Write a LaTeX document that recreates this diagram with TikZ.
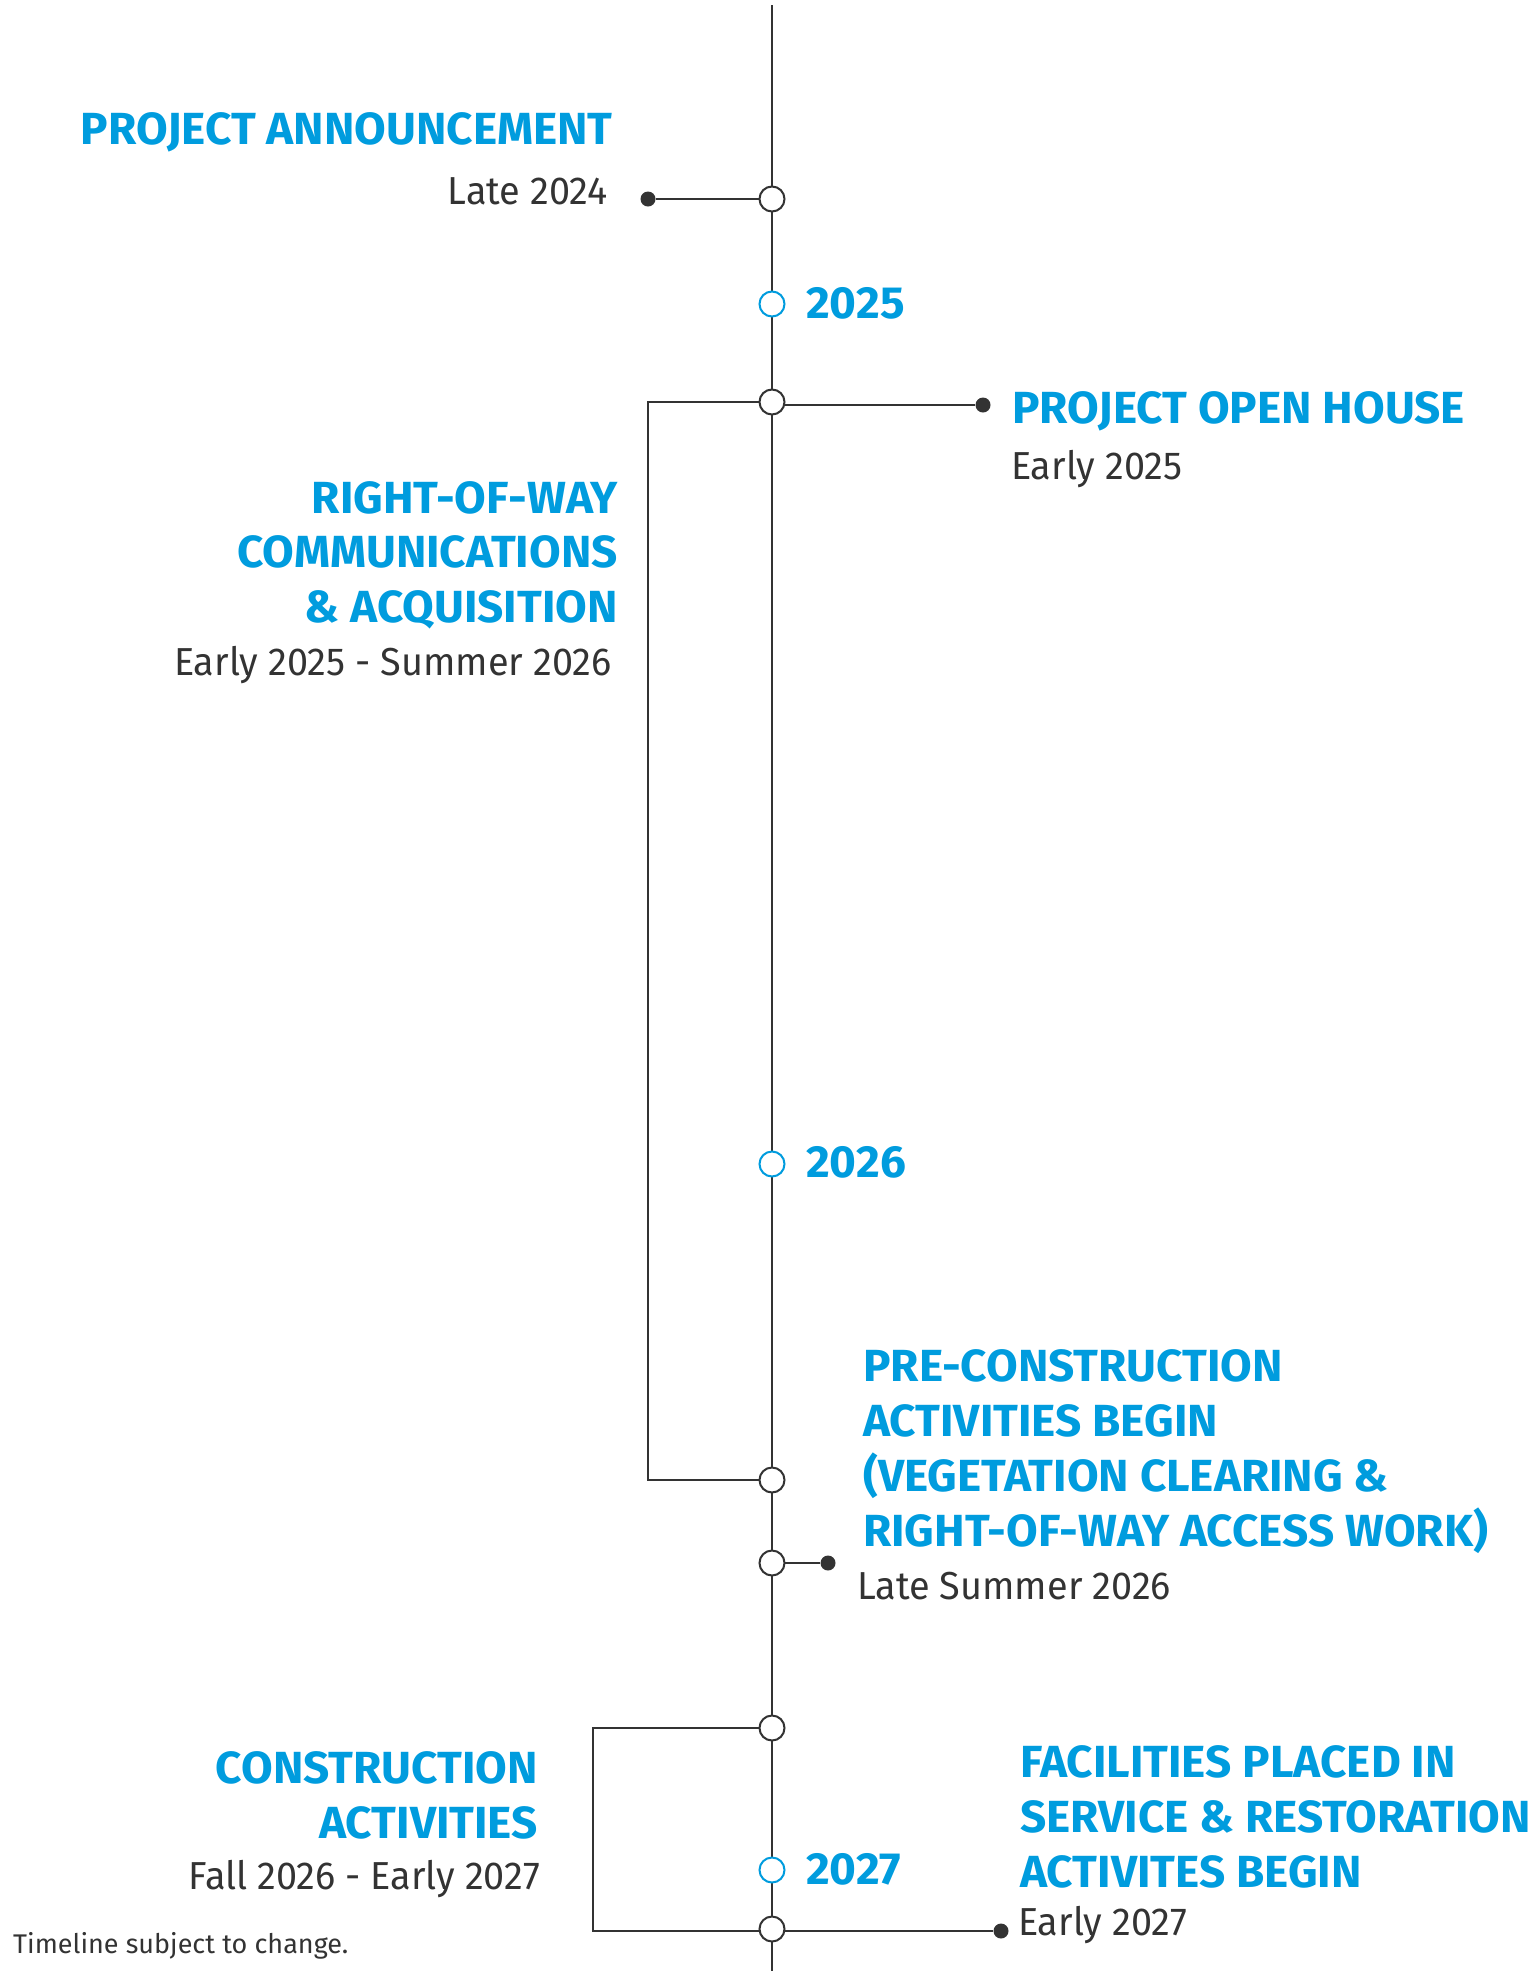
\documentclass[tikz,border=0pt]{standalone}
\usepackage{fontspec}
\setmainfont{Fira Sans}
\newfontfamily\headfont{Fira Sans}[FakeStretch=1.02]
\newfontfamily\datefont{Fira Sans}[FakeStretch=0.97]
\usepackage{xcolor}
\definecolor{Blue}{RGB}{0,156,222}
\definecolor{Gray}{RGB}{51,51,51}
\definecolor{White}{RGB}{255,255,255}
\usepackage{tikz}

\begin{document}
\begin{tikzpicture}[x=1pt, y=-1pt,
	line/.style={draw=Gray, line width=2pt},
	joint/.style={circle, draw=Gray, fill=White, line width=2pt, minimum size=25pt, inner sep=0pt},
	yearjoint/.style={circle, draw=Blue, fill=White, line width=2pt, minimum size=25pt, inner sep=0pt},
	pin/.style={circle, fill=Gray, minimum size=15pt, inner sep=0pt},
	heading/.style={text=Blue, font=\fontsize{45}{55}\headfont\bfseries, inner sep=0pt},
	datetext/.style={text=Gray, font=\fontsize{39}{47}\datefont, inner sep=0pt}]
		
		\useasboundingbox (0,0) rectangle (1538,1971);
		
		% Points on the timeline
		\coordinate (top) at (772,5);
		\coordinate (bottom) at (772,1971);
		\coordinate (ann) at (772,199);
		\coordinate (y25) at (772,304);
		\coordinate (open) at (772,402);
		\coordinate (y26) at (772,1164);
		\coordinate (pre) at (772,1480);
		\coordinate (late) at (772,1563);
		\coordinate (con) at (772,1728);
		\coordinate (y27) at (772,1870);
		\coordinate (fac) at (772,1929);
		
		% Corners of the brackets
		\coordinate (kRow) at (648,402);
		\coordinate (kCon) at (593,1728);
		
		% Pins
		\node[pin] (pAnn) at (648,199) {};
		\node[pin] (pOpen) at (983,405) {};
		\node[pin] (pLate) at (828,1563) {};
		\node[pin] (pFac) at (1001,1931) {};
		
		% Timeline
		\draw[line] (top) -- (bottom);
		
		% Connectors
		\draw[line] (pAnn) -- (ann);
		\draw[line] (pOpen) -- (pOpen -| open);
		\draw[line] (open) -- (kRow) |- (pre);
		\draw[line] (pLate) -- (late);
		\draw[line] (con) -- (kCon) |- (pFac);
		
		% Joints
		\node[joint] (jAnn) at (ann) {};
		\node[joint] (jOpen) at (open) {};
		\node[joint] (jPre) at (pre) {};
		\node[joint] (jLate) at (late) {};
		\node[joint] (jCon) at (con) {};
		\node[joint] (jFac) at (fac) {};
		
		\node[yearjoint] (j25) at (y25) {};
		\node[yearjoint] (j26) at (y26) {};
		\node[yearjoint] (j27) at (y27) {};
		
		% Years
		\node[heading, anchor=base west] (t25) at (806,318) {2025};
		\node[heading, anchor=base west] (t26) at (806,1177) {2026};
		\node[heading, anchor=base west] (t27) at (806,1884) {2027};
		
		% Project announcement
		\node[heading, anchor=base east] (hAnn) at (613,144) {PROJECT ANNOUNCEMENT};
		\node[datetext, anchor=base east] (dAnn) at (608,204) {Late 2024};
		
		% Project open house
		\node[heading, anchor=base west] (hOpen) at (1012,423) {PROJECT OPEN HOUSE};
		\node[datetext, anchor=base west] (dOpen) at (1011,479) {Early 2025};
		
		% Right-of-way
		\node[heading, anchor=base east] (hRowA) at (618,513) {RIGHT-OF-WAY};
		\node[heading, anchor=base east] (hRowB) at (618,567) {COMMUNICATIONS};
		\node[heading, anchor=base east] (hRowC) at (618,622) {\& ACQUISITION};
		\node[datetext, anchor=base east] (dRow) at (612,675) {Early 2025 - Summer 2026};
		
		% Pre-construction
		\node[heading, anchor=base west] (hPreA) at (863,1381) {PRE-CONSTRUCTION};
		\node[heading, anchor=base west] (hPreB) at (863,1436) {ACTIVITIES BEGIN};
		\node[heading, anchor=base west] (hPreC) at (863,1491) {(VEGETATION CLEARING \&};
		\node[heading, anchor=base west] (hPreD) at (863,1546) {RIGHT-OF-WAY ACCESS WORK)};
		\node[datetext, anchor=base west] (dLate) at (857,1599) {Late Summer 2026};
		
		% Construction
		\node[heading, anchor=base east] (hConA) at (538,1783) {CONSTRUCTION};
		\node[heading, anchor=base east] (hConB) at (538,1838) {ACTIVITIES};
		\node[datetext, anchor=base east] (dCon) at (540,1889) {Fall 2026 - Early 2027};
		
		% Facilities
		\node[heading, anchor=base west] (hFacA) at (1020,1777) {FACILITIES PLACED IN};
		\node[heading, anchor=base west] (hFacB) at (1020,1832) {SERVICE \& RESTORATION};
		\node[heading, anchor=base west] (hFacC) at (1020,1887) {ACTIVITES BEGIN};
		\node[datetext, anchor=base west] (dFac) at (1018,1935) {Early 2027};
		
		% Note
		\node[text=Gray, font=\fontsize{27}{31}\selectfont, inner sep=0pt, anchor=base west] (note) at (13,1953) {Timeline subject to change.};
		
	\end{tikzpicture}
\end{document}
